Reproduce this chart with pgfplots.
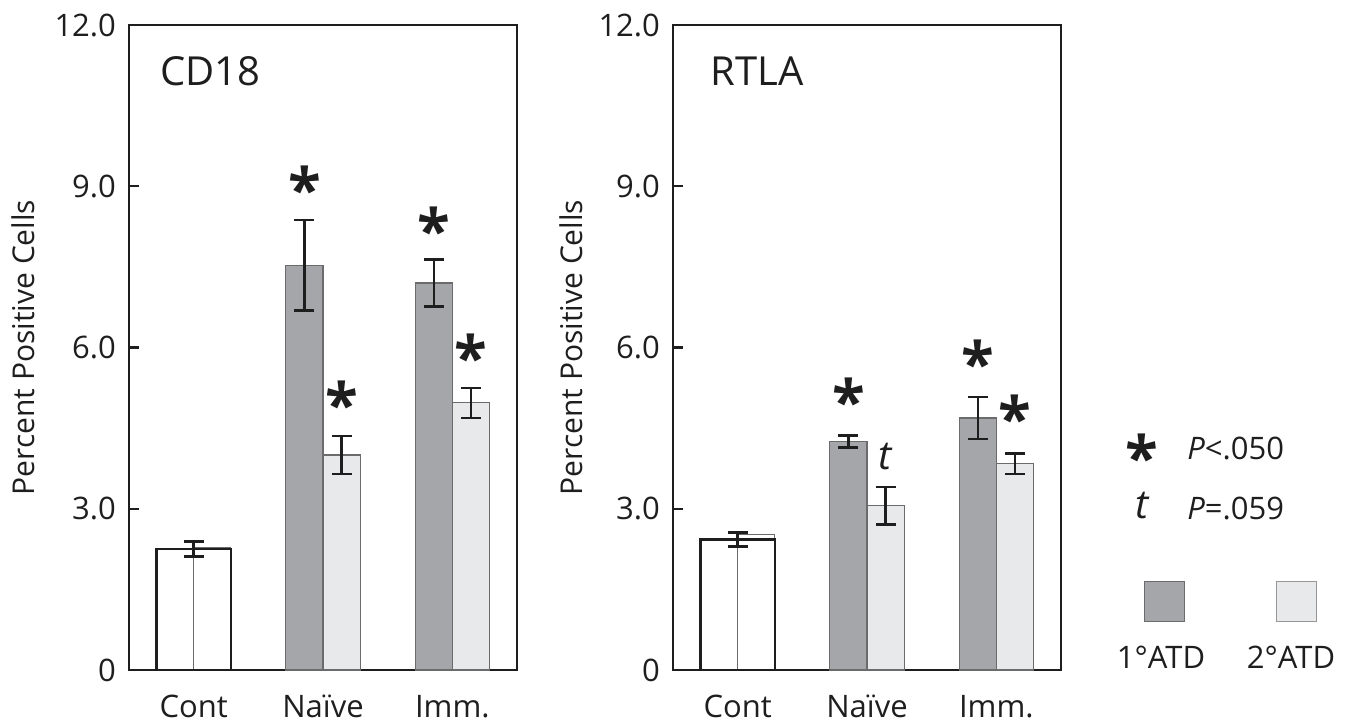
\documentclass[border=0pt]{standalone}
\usepackage{fontspec}
\setmainfont{Open Sans}
\usepackage{pgfplots}
\pgfplotsset{compat=1.18}
\definecolor{dark}{HTML}{A5A6A9}
\definecolor{light}{HTML}{E8E9EB}
\definecolor{edge}{HTML}{6B6B6B}
\definecolor{ink}{HTML}{1E1E1E}
\pgfplotsset{
 panel/.style={
  scale only axis, width=194pt, height=322.5pt,
  xmin=-0.5, xmax=2.5, ymin=0, ymax=12,
  axis line style={ink, line width=1.2pt},
  xtick={0,1,2}, xticklabels={Cont,Naïve,Imm.},
  x tick style={draw=none},
  ytick={0,3,6,9,12}, yticklabels={0,3.0,6.0,9.0,12.0},
  ytick pos=left, tick align=inside, major tick length=5pt,
  y tick style={ink, line width=1.2pt},
  tick label style={font=\fontsize{15.5}{15.5}\selectfont, text=ink},
  yticklabel style={xshift=-3pt},
  xticklabel style={yshift=-9pt},
  every axis y label/.style={at={(axis description cs:0,0.5)}, rotate=90, anchor=center, font=\fontsize{15}{15}\selectfont, text=ink},
  ylabel={Percent Positive Cells},
  clip=false,
 },
 errs/.style={mark=none, draw=none, forget plot, error bars/.cd, y dir=both, y explicit, error bar style={draw=ink, line width=1.2pt}, error mark options={draw=ink, line width=1.2pt, mark size=5pt, rotate=90}},
 bw/.style={ybar, bar width=0.287},
}
\tikzset{
 sig/.style={font=\fontsize{30}{30}\selectfont\bfseries, text=ink, anchor=center, inner sep=0pt, yshift=-3.5pt},
 ttx/.style={font=\fontsize{20}{20}\selectfont\itshape, text=ink, anchor=center, inner sep=0pt},
 lab/.style={font=\fontsize{15.5}{15.5}\selectfont, text=ink, inner sep=0pt},
}
\begin{document}
\begin{tikzpicture}
\useasboundingbox (-64.5pt,-28.5pt) rectangle (613pt,335pt);
% ---------- CD18 ----------
\begin{axis}[panel, every axis y label/.append style={yshift=53pt}]
\addplot[bw, bar shift=-0.1435, fill=white, draw=edge, line width=0.6pt] coordinates {(0,2.25)};
\addplot[bw, bar shift=0.1435, fill=white, draw=edge, line width=0.6pt] coordinates {(0,2.27)};
\addplot[ybar, bar width=0.574, bar shift=0, fill=none, draw=ink, line width=1.2pt] coordinates {(0,2.25)};
\addplot[bw, bar shift=-0.1435, fill=dark, draw=edge, line width=0.6pt] coordinates {(1,7.53) (2,7.20)};
\addplot[bw, bar shift=0.1435, fill=light, draw=edge, line width=0.6pt] coordinates {(1,4.00) (2,4.97)};
% error bars (at bar centres)
\addplot[errs] coordinates {(0,2.25) +- (0,0.14)};
\addplot[errs] coordinates {(0.8565,7.53) +- (0,0.84) (1.8565,7.20) +- (0,0.44)};
\addplot[errs] coordinates {(1.1435,4.00) +- (0,0.35) (2.1435,4.97) +- (0,0.28)};
\node[font=\fontsize{20}{20}\selectfont, text=ink, anchor=center] at (axis cs:0.13,11.14) {CD18};
\node[sig] at (axis cs:0.8565,9.08) {*};
\node[sig] at (axis cs:1.1435,5.08) {*};
\node[sig] at (axis cs:1.8565,8.33) {*};
\node[sig] at (axis cs:2.1435,5.95) {*};
\end{axis}
% ---------- RTLA ----------
\begin{axis}[panel, at={(272pt,0pt)}, every axis y label/.append style={yshift=51pt}]
\addplot[bw, bar shift=-0.1435, fill=white, draw=edge, line width=0.6pt] coordinates {(0,2.43)};
\addplot[bw, bar shift=0.1435, fill=white, draw=edge, line width=0.6pt] coordinates {(0,2.52)};
\addplot[ybar, bar width=0.574, bar shift=0, fill=none, draw=ink, line width=1.2pt] coordinates {(0,2.43)};
\addplot[bw, bar shift=-0.1435, fill=dark, draw=edge, line width=0.6pt] coordinates {(1,4.25) (2,4.69)};
\addplot[bw, bar shift=0.1435, fill=light, draw=edge, line width=0.6pt] coordinates {(1,3.06) (2,3.84)};
\addplot[errs] coordinates {(0,2.43) +- (0,0.13)};
\addplot[errs] coordinates {(0.8565,4.25) +- (0,0.11) (1.8565,4.69) +- (0,0.39)};
\addplot[errs] coordinates {(1.1435,3.06) +- (0,0.35) (2.1435,3.84) +- (0,0.19)};
\node[font=\fontsize{20}{20}\selectfont, text=ink, anchor=center] at (axis cs:0.15,11.14) {RTLA};
\node[sig] at (axis cs:0.8565,5.14) {*};
\node[ttx] at (axis cs:1.1435,3.97) {t};
\node[sig] at (axis cs:1.8565,5.84) {*};
\node[sig] at (axis cs:2.1435,4.82) {*};
\end{axis}
% ---------- legend ----------
\node[sig] at (506.5pt,110pt) {*};
\node[lab, anchor=west] at (529pt,111pt) {\textit{P}<.050};
\node[ttx] at (506.5pt,82pt) {t};
\node[lab, anchor=west] at (529pt,81pt) {\textit{P}=.059};
\node[draw=edge, fill=dark, line width=0.5pt, minimum size=20pt, inner sep=0pt] at (517.5pt,34.25pt) {};
\node[draw=edge!70, fill=light, line width=0.5pt, minimum size=20pt, inner sep=0pt] at (583.5pt,34.25pt) {};
\node[lab, anchor=center] at (516pt,6.25pt) {1°ATD};
\node[lab, anchor=center] at (581pt,6.25pt) {2°ATD};
\end{tikzpicture}
\end{document}
